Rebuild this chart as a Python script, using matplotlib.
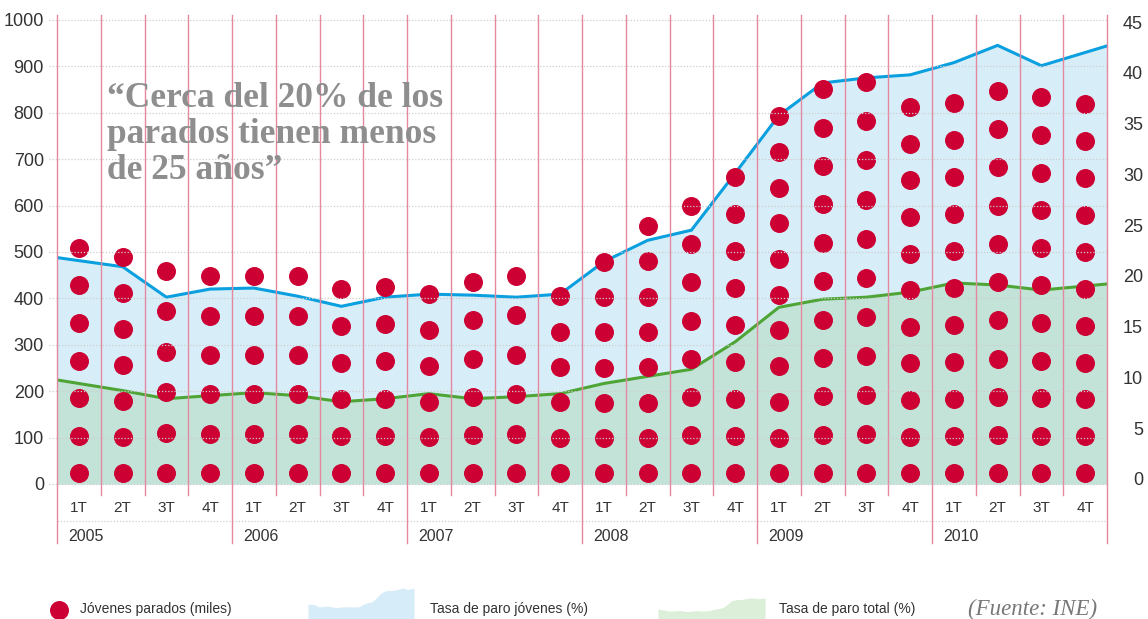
import numpy as np
import matplotlib.pyplot as plt

plt.rcParams['font.family'] = ['Liberation Sans Narrow', 'Liberation Sans', 'DejaVu Sans']

# datos (INE, 2005-2010 por trimestre)
trimestres = ['1T', '2T', '3T', '4T'] * 6
anios = ['2005', '2006', '2007', '2008', '2009', '2010']
jovenes_parados = [509, 490, 460, 448, 448, 448, 421, 425, 410, 435, 449, 405,
                   479, 556, 599, 662, 793, 851, 866, 812, 822, 847, 833, 819]
puntos = [7, 7, 6, 6, 6, 6, 6, 6, 6, 6, 6, 6, 7, 8, 8, 9, 11, 11, 11, 11, 11, 11, 11, 11]
tasa_jovenes = [21.5, 20.9, 17.9, 18.7, 18.8, 18.0, 17.0, 17.9, 18.2, 18.1, 17.9, 18.2,
                21.4, 23.5, 24.5, 30.1, 35.8, 39.0, 39.5, 39.8, 41.0, 42.7, 40.7, 42.0]
tasa_total = [9.4, 8.7, 7.9, 8.2, 8.5, 8.2, 7.6, 7.9, 8.4, 7.9, 8.1, 8.4,
              9.4, 10.1, 10.8, 13.5, 16.9, 17.7, 17.9, 18.4, 19.3, 19.1, 18.6, 19.0]

ROJO = '#cc0033'
AZUL = '#0a9fdf'
VERDE = '#4ea536'
GRIS = '#333333'


def extend(v):
    # prolonga medio trimestre hasta los bordes del grafico
    v = np.asarray(v, dtype=float)
    return np.r_[v[0] + (v[0] - v[1]) / 2, v, v[-1] + (v[-1] - v[-2]) / 2]


W, H = 1148, 619
fig = plt.figure(figsize=(W / 100, H / 100), dpi=100)
ax = fig.add_axes([57 / W, 1 - 484 / H, 1050 / W, 464 / H])
ax2 = ax.twinx()
ax.set_zorder(ax2.get_zorder() + 1)
ax.patch.set_visible(False)

x = np.arange(len(trimestres))
xe = np.r_[-0.5, x, len(x) - 0.5]

# tasas de paro (eje derecho)
ax2.fill_between(xe, -0.5, extend(tasa_jovenes), color='#d7eef9', lw=0)
ax2.fill_between(xe, -0.5, extend(tasa_total), color='#c3e3d9', lw=0)
ax2.plot(xe, extend(tasa_jovenes), color=AZUL, lw=2.2, solid_joinstyle='miter')
ax2.plot(xe, extend(tasa_total), color=VERDE, lw=2.2)
ax2.set_ylim(-0.5, 45.2)
ax2.set_yticks(range(0, 46, 5))
ax2.tick_params(length=0, pad=26, labelsize=13, labelcolor=GRIS)
for lab in ax2.get_yticklabels():
    lab.set_ha('right')

# jovenes parados: columnas de puntos
for i in x:
    ys = np.linspace(23, jovenes_parados[i], puntos[i])
    ax.scatter(np.full(len(ys), i), ys, s=187, color=ROJO, lw=0, zorder=3)

ax.set_xlim(-0.5, len(x) - 0.5)
ax.set_ylim(0, 1000)
ax.set_yticks(range(0, 1001, 100))
ax.set_xticks([])
ax.tick_params(length=0, pad=9.4, labelsize=13, labelcolor=GRIS)
for a in (ax, ax2):
    for s in a.spines.values():
        s.set_visible(False)

# rejilla punteada
for v in range(0, 1001, 100):
    ax.plot([-0.68, len(x) - 0.5], [v, v], ls=(0, (1, 1.5)), color='#cdcdcd',
            lw=0.9, zorder=4, clip_on=False)
ax.plot([-0.5, len(x) - 0.5], [-79, -79], ls=(0, (1, 1.5)), color='#cdcdcd',
        lw=0.9, clip_on=False)

# separadores de trimestre y de anio
for b in np.arange(-0.5, len(x), 1):
    fin_anio = (b + 0.5) % 4 == 0
    ax.plot([b, b], [-128 if fin_anio else -24, 1011], color='#e4879f', lw=1,
            zorder=2, clip_on=False)

for i in x:
    ax.text(i, -52, trimestres[i], ha='center', va='center', fontsize=11, color=GRIS)
for k, a in enumerate(anios):
    ax.text(4 * k - 0.25, -114, a, ha='left', va='center', fontsize=11.5, color=GRIS)

ax.text(0.64, 866, '\u201cCerca del 20% de los\nparados tienen menos\nde 25 a\u00f1os\u201d',
        ha='left', va='top', fontsize=25.5, fontweight='bold', color='#8e8e8e',
        family='Liberation Serif', linespacing=1.12, zorder=5)

# leyenda
lg = fig.add_axes([0, 0, 1, 1])
lg.set_xlim(0, W)
lg.set_ylim(H, 0)
lg.axis('off')
lg.scatter([59], [610], s=187, color=ROJO, lw=0)
lg.text(80, 609, 'J\u00f3venes parados (miles)', va='center', fontsize=10, color=GRIS)
lg.text(430, 609, 'Tasa de paro j\u00f3venes (%)', va='center', fontsize=10, color=GRIS)
lg.text(779, 609, 'Tasa de paro total (%)', va='center', fontsize=10, color=GRIS)
lg.text(968, 609, '(Fuente: INE)', va='center', fontsize=16.5, style='italic',
        family='Liberation Serif', color='#777777')

la = fig.add_axes([308 / W, 0, 106 / W, 31 / H])
la.fill_between(xe, 0, extend(tasa_jovenes), color='#d6ecf8', lw=0)
la.set_xlim(xe[0], xe[-1])
la.set_ylim(2.2, 42.7)
la.axis('off')

lv = fig.add_axes([658 / W, 0, 107 / W, 21 / H])
lv.fill_between(xe, 0, extend(tasa_total), color='#dcefd9', lw=0)
lv.set_xlim(xe[0], xe[-1])
lv.set_ylim(1.2, 19.2)
lv.axis('off')

fig.savefig('out.png', dpi=100)
